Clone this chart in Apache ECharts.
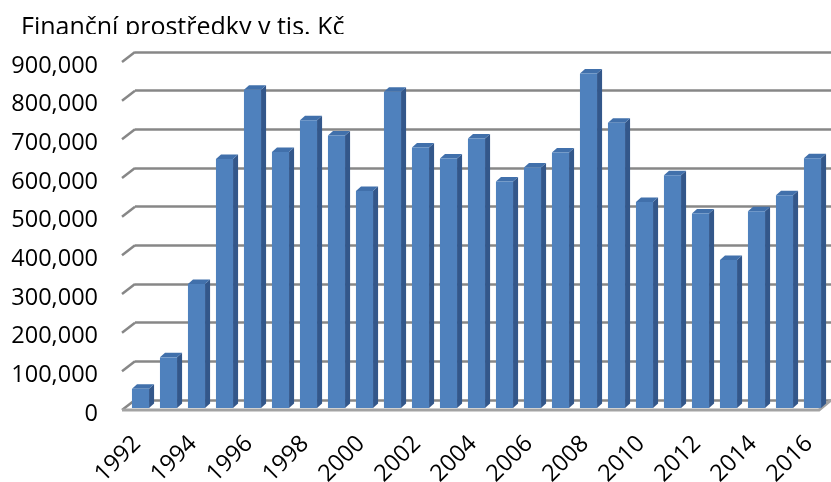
<!DOCTYPE html>
<html>
<head>
<meta charset="utf-8">
<script src="https://cdn.jsdelivr.net/npm/echarts@6/dist/echarts.min.js"></script>
<style>
  html, body { margin: 0; padding: 0; background: #fff; }
  #chart { width: 831px; height: 482px; }
</style>
</head>
<body>
<div id="chart"></div>
<script>
const years = ['1992', '1993', '1994', '1995', '1996', '1997', '1998', '1999', '2000', '2001',
  '2002', '2003', '2004', '2005', '2006', '2007', '2008', '2009', '2010', '2011',
  '2012', '2013', '2014', '2015', '2016']
const funds = [49500, 131000, 321000, 644000, 823000, 662000, 744000, 705000, 561000, 818000,
  674000, 645000, 697000, 586000, 622000, 661000, 865000, 738000, 533000, 602000,
  503000, 383000, 509000, 550000, 646000]
const yTicks = [0, 100000, 200000, 300000, 400000, 500000, 600000, 700000, 800000, 900000]

const FONT = '"Open Sans", "DejaVu Sans", sans-serif'
const GRID_COLOR = '#878787'
const FRONT = '#4f81bd'
const SIDE = '#33578a'
const TOP = '#4170ab'

const chart = echarts.init(document.getElementById('chart'), null, { renderer: 'canvas' })

// back wall gridlines + left connectors + floor edge
function renderWall(params, api) {
  const cs = params.coordSys
  const v = api.value(1)
  const y = api.coord([0, v])[1]
  const x = cs.x
  const children = [{
    type: 'line',
    shape: { x1: x - 13, y1: y + 10, x2: x, y2: y },
    style: { stroke: GRID_COLOR, lineWidth: 2.5 },
  }]
  if (v === 0) {
    children.push({
      type: 'polyline',
      shape: { points: [[x - 13, y + 10], [x + cs.width - 12, y + 10], [x + cs.width, y]] },
      style: { stroke: '#a3a3a3', lineWidth: 3, fill: null },
    })
  }
  return { type: 'group', children }
}

// pseudo-3D column
function renderBar(params, api) {
  const i = api.value(0)
  const v = api.value(1)
  const base = api.coord([i, 0])
  const top = api.coord([i, v])
  const band = api.size([1, 0])[0]
  const x0 = base[0] - band * 0.18
  const x1 = x0 + band * 0.61
  const dx = band * 0.18
  const dy = 4.5
  const yt = top[1]
  const yb = base[1]
  return {
    type: 'group',
    children: [
      { type: 'polygon', shape: { points: [[x1, yb], [x1, yt], [x1 + dx, yt - dy], [x1 + dx, yb - dy]] }, style: { fill: SIDE } },
      { type: 'polygon', shape: { points: [[x0, yt], [x1, yt], [x1 + dx, yt - dy], [x0 + dx, yt - dy]] }, style: { fill: TOP } },
      { type: 'rect', shape: { x: x0, y: yt, width: x1 - x0, height: yb - yt }, style: { fill: FRONT } },
    ],
  }
}

chart.setOption({
  animation: false,
  backgroundColor: '#fff',
  title: {
    text: 'Finanční prostředky v tis. Kč',
    left: 16,
    top: 10,
    textStyle: { fontFamily: FONT, fontSize: 25, fontWeight: 'normal', color: '#000' },
  },
  graphic: [
    // title is cut off at the bottom in the original
    { type: 'rect', z: 100, shape: { x: 0, y: 34, width: 420, height: 14 }, style: { fill: '#fff' } },
  ],
  grid: [
    { left: 135, right: 0, top: 52, height: 348, outerBoundsMode: 'none' }, // back wall
    { left: 123, right: 8, top: 60, height: 348, outerBoundsMode: 'none' }, // front plane (bars)
    { left: 123, right: 8, top: 66, height: 348, outerBoundsMode: 'none' }, // value labels
  ],
  xAxis: [
    { gridIndex: 0, type: 'category', data: years, show: false },
    {
      gridIndex: 1,
      type: 'category',
      data: years,
      axisLine: { show: false },
      axisTick: { show: false },
      axisLabel: {
        interval: 1,
        rotate: 45,
        margin: 32,
        fontFamily: FONT,
        fontSize: 23.5,
        color: '#000',
      },
    },
    { gridIndex: 2, type: 'category', data: years, show: false },
  ],
  yAxis: [
    {
      gridIndex: 0,
      type: 'value',
      min: 0,
      max: 900000,
      interval: 100000,
      axisLine: { show: false },
      axisTick: { show: false },
      axisLabel: { show: false },
      splitLine: { lineStyle: { color: GRID_COLOR, width: 2.5 } },
    },
    {
      gridIndex: 1,
      type: 'value',
      min: 0,
      max: 900000,
      interval: 100000,
      show: false,
      splitLine: { show: false },
    },
    {
      gridIndex: 2,
      type: 'value',
      min: 0,
      max: 900000,
      interval: 100000,
      axisLine: { show: false },
      axisTick: { show: false },
      splitLine: { show: false },
      axisLabel: {
        margin: 25,
        fontFamily: FONT,
        fontSize: 23.5,
        color: '#000',
        formatter: (v) => v.toLocaleString('en-US'),
      },
    },
  ],
  series: [
    {
      type: 'custom',
      xAxisIndex: 0,
      yAxisIndex: 0,
      clip: false,
      silent: true,
      z: 1,
      renderItem: renderWall,
      data: yTicks.map((t) => [0, t]),
    },
    {
      type: 'custom',
      xAxisIndex: 1,
      yAxisIndex: 1,
      clip: false,
      z: 3,
      renderItem: renderBar,
      encode: { x: 0, y: 1 },
      data: years.map((y, i) => [i, funds[i]]),
    },
  ],
})
</script>
</body>
</html>
